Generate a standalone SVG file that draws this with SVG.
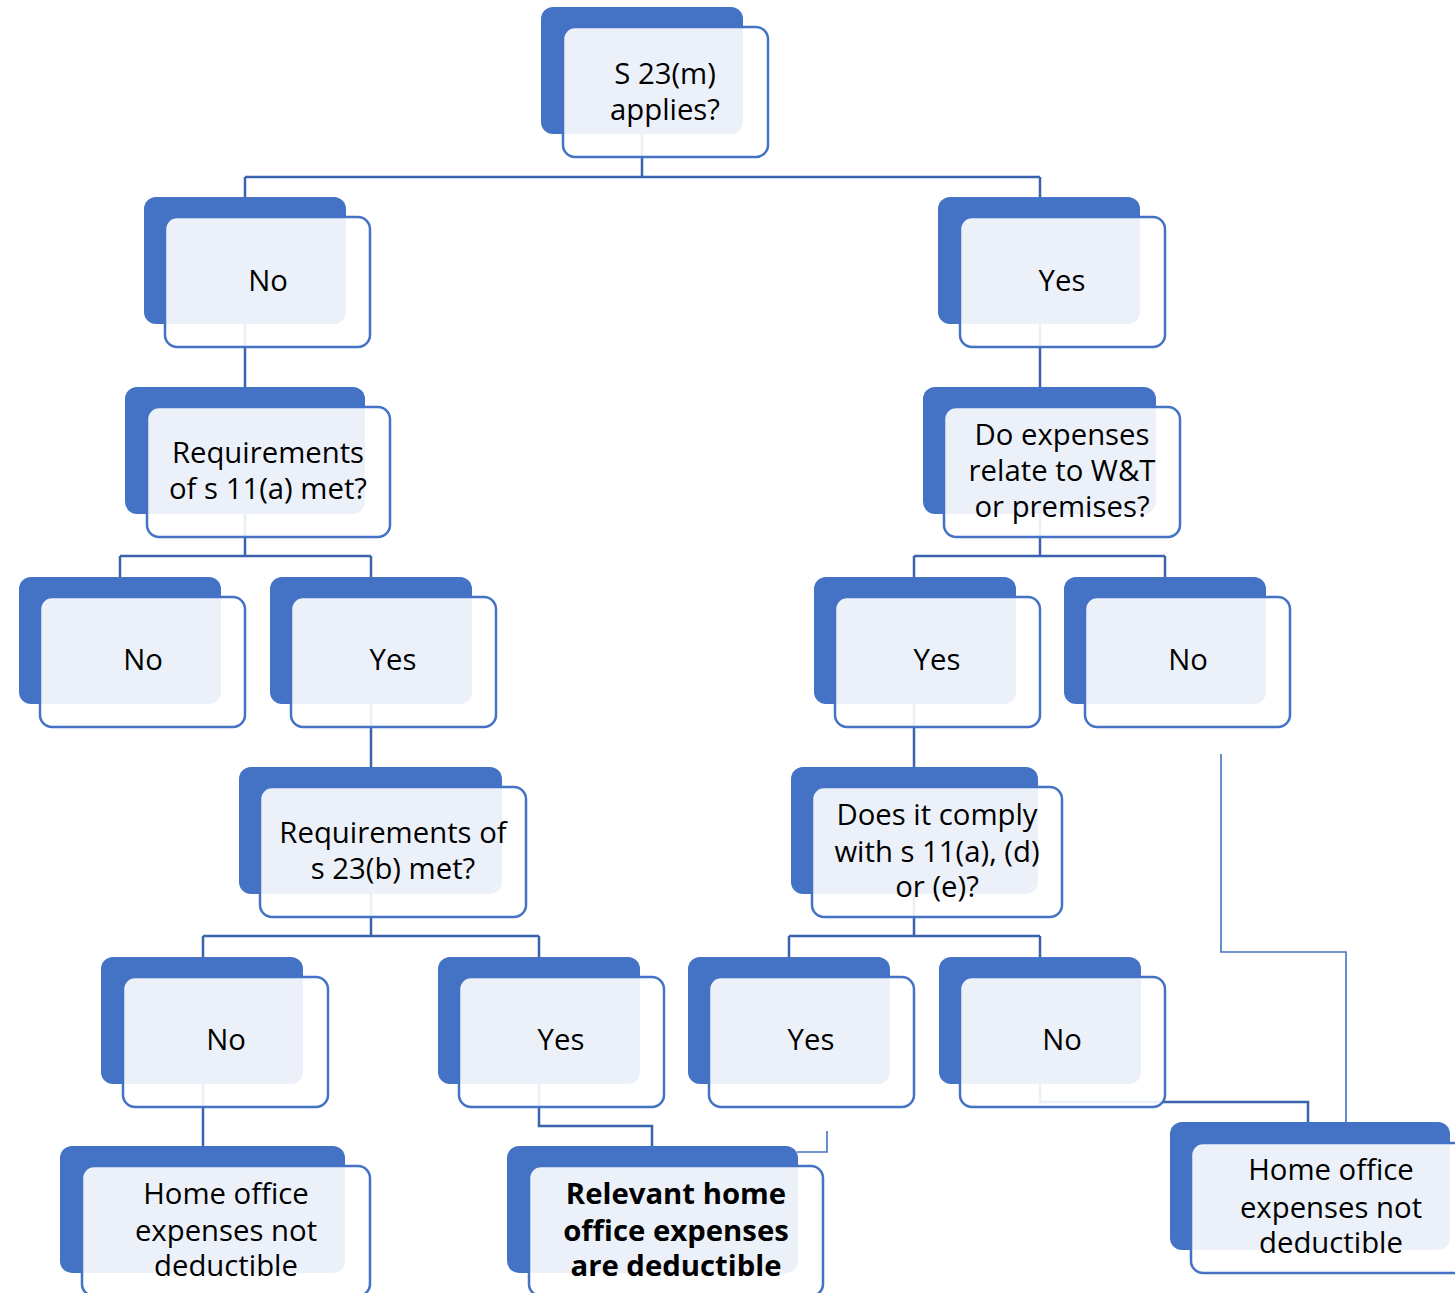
<svg xmlns="http://www.w3.org/2000/svg" width="1455" height="1293" viewBox="0 0 1455 1293">
<style>
.dk{fill:#4472C4}
.ol{fill:#ffffff;fill-opacity:0.9;stroke:#4472C4;stroke-width:2.5}
.t{font-family:"Open Sans","Noto Sans","DejaVu Sans",sans-serif;font-size:29.3px;fill:#000;text-anchor:middle}
.b{font-weight:bold}
.c{fill:none;stroke:#3B62AC;stroke-width:2.5}
.c2{fill:none;stroke:#4472C4;stroke-width:1.6}
</style>
<rect width="1455" height="1293" fill="#ffffff"/>
<g id="connectors">
<path class="c" d="M642 134V177M245 177H1040M245 177V197M1040 177V197"/>
<path class="c" d="M245 324V387M1040 324V387"/>
<path class="c" d="M245 514V556M120 556H371M120 556V577M371 556V577"/>
<path class="c" d="M1040 514V556M914 556H1165M914 556V577M1165 556V577"/>
<path class="c" d="M371 704V767M914 704V767"/>
<path class="c" d="M371 894V936M203 936H539M203 936V957M539 936V957"/>
<path class="c" d="M914 894V936M789 936H1040M789 936V957M1040 936V957"/>
<path class="c" d="M203 1084V1146"/>
<path class="c" d="M539 1084V1126H652V1146"/>
<path class="c" d="M1040 1084V1102H1308V1122"/>
<path class="c2" d="M827 1131V1152H797"/>
<path class="c2" d="M1221 754V952H1346V1152"/>
</g>
<g id="n-root"><rect class="dk" x="541" y="7" width="202" height="127" rx="12"/><rect class="ol" x="563" y="27" width="205" height="130" rx="12"/><text class="t"><tspan x="665" y="84">S 23(m)</tspan><tspan x="665" y="120">applies?</tspan></text></g>
<g id="n-no1"><rect class="dk" x="144" y="197" width="202" height="127" rx="12"/><rect class="ol" x="165" y="217" width="205" height="130" rx="12"/><text class="t" x="268" y="291">No</text></g>
<g id="n-yes1"><rect class="dk" x="938" y="197" width="202" height="127" rx="12"/><rect class="ol" x="960" y="217" width="205" height="130" rx="12"/><text class="t" x="1062" y="291">Yes</text></g>
<g id="n-req11a"><rect class="dk" x="125" y="387" width="240" height="127" rx="12"/><rect class="ol" x="147" y="407" width="243" height="130" rx="12"/><text class="t"><tspan x="268" y="463">Requirements</tspan><tspan x="268" y="499">of s 11(a) met?</tspan></text></g>
<g id="n-relate"><rect class="dk" x="923" y="387" width="233" height="127" rx="12"/><rect class="ol" x="944" y="407" width="236" height="130" rx="12"/><text class="t"><tspan x="1062" y="445">Do expenses</tspan><tspan x="1062" y="481">relate to W&amp;T</tspan><tspan x="1062" y="517">or premises?</tspan></text></g>
<g id="n-no2"><rect class="dk" x="19" y="577" width="202" height="127" rx="12"/><rect class="ol" x="40" y="597" width="205" height="130" rx="12"/><text class="t" x="143" y="670">No</text></g>
<g id="n-yes2"><rect class="dk" x="270" y="577" width="202" height="127" rx="12"/><rect class="ol" x="291" y="597" width="205" height="130" rx="12"/><text class="t" x="393" y="670">Yes</text></g>
<g id="n-yes3"><rect class="dk" x="814" y="577" width="202" height="127" rx="12"/><rect class="ol" x="835" y="597" width="205" height="130" rx="12"/><text class="t" x="937" y="670">Yes</text></g>
<g id="n-no3"><rect class="dk" x="1064" y="577" width="202" height="127" rx="12"/><rect class="ol" x="1085" y="597" width="205" height="130" rx="12"/><text class="t" x="1188" y="670">No</text></g>
<g id="n-req23b"><rect class="dk" x="239" y="767" width="263" height="127" rx="12"/><rect class="ol" x="260" y="787" width="266" height="130" rx="12"/><text class="t"><tspan x="393" y="843">Requirements of</tspan><tspan x="393" y="879">s 23(b) met?</tspan></text></g>
<g id="n-comply"><rect class="dk" x="791" y="767" width="247" height="127" rx="12"/><rect class="ol" x="812" y="787" width="250" height="130" rx="12"/><text class="t"><tspan x="937" y="825">Does it comply</tspan><tspan x="937" y="862">with s 11(a), (d)</tspan><tspan x="937" y="897">or (e)?</tspan></text></g>
<g id="n-no4"><rect class="dk" x="101" y="957" width="202" height="127" rx="12"/><rect class="ol" x="123" y="977" width="205" height="130" rx="12"/><text class="t" x="226" y="1050">No</text></g>
<g id="n-yes4"><rect class="dk" x="438" y="957" width="202" height="127" rx="12"/><rect class="ol" x="459" y="977" width="205" height="130" rx="12"/><text class="t" x="561" y="1050">Yes</text></g>
<g id="n-yes5"><rect class="dk" x="688" y="957" width="202" height="127" rx="12"/><rect class="ol" x="709" y="977" width="205" height="130" rx="12"/><text class="t" x="811" y="1050">Yes</text></g>
<g id="n-no5"><rect class="dk" x="939" y="957" width="202" height="127" rx="12"/><rect class="ol" x="960" y="977" width="205" height="130" rx="12"/><text class="t" x="1062" y="1050">No</text></g>
<g id="n-notded1"><rect class="dk" x="60" y="1146" width="285" height="127" rx="12"/><rect class="ol" x="82" y="1166" width="288" height="130" rx="12"/><text class="t"><tspan x="226" y="1204">Home office</tspan><tspan x="226" y="1241">expenses not</tspan><tspan x="226" y="1276">deductible</tspan></text></g>
<g id="n-ded"><rect class="dk" x="507" y="1146" width="291" height="127" rx="12"/><rect class="ol" x="529" y="1166" width="294" height="130" rx="12"/><text class="t b"><tspan x="676" y="1204">Relevant home</tspan><tspan x="676" y="1241">office expenses</tspan><tspan x="676" y="1276">are deductible</tspan></text></g>
<g id="n-notded2"><rect class="dk" x="1170" y="1122" width="280" height="128" rx="12"/><rect class="ol" x="1191" y="1143" width="283" height="130" rx="12"/><text class="t"><tspan x="1331" y="1180">Home office</tspan><tspan x="1331" y="1218">expenses not</tspan><tspan x="1331" y="1253">deductible</tspan></text></g>
</svg>
